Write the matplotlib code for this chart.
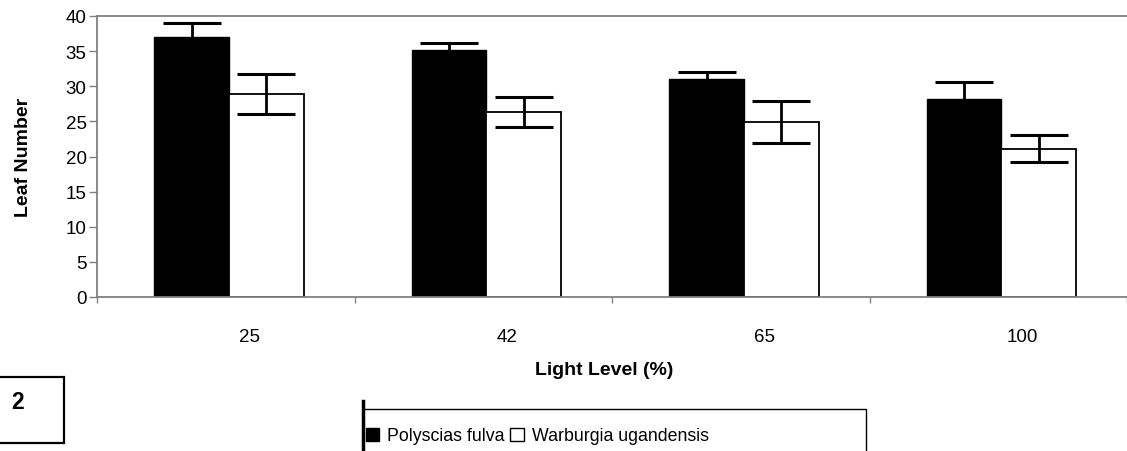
import numpy as np
import matplotlib
matplotlib.use('Agg')
import matplotlib.pyplot as plt
import matplotlib.transforms as mtransforms
from matplotlib.patches import Rectangle
from matplotlib.lines import Line2D

plt.rcParams['font.family'] = ['Liberation Sans', 'DejaVu Sans']

# Data
LIGHT_LEVELS = ['25', '42', '65', '100']
POLYSCIAS_MEAN = [37.0, 35.2, 31.0, 28.2]
POLYSCIAS_ERR = [2.0, 1.0, 1.0, 2.4]
WARBURGIA_MEAN = [28.9, 26.3, 24.9, 21.1]
WARBURGIA_ERR = [2.9, 2.1, 3.0, 1.9]
SERIES_LABELS = ['Polyscias fulva', 'Warburgia ugandensis']

W, H = 1127, 452
fig = plt.figure(figsize=(W / 100, H / 100), dpi=100)
ax = fig.add_axes([97 / W, (H - 298) / H, 1030 / W, 281 / H])

x = np.arange(len(LIGHT_LEVELS))
bw = 0.29
shift = 0.012
err_kw = dict(ecolor='black', elinewidth=2, capsize=21, capthick=2.2)
ax.bar(x - bw + shift, POLYSCIAS_MEAN, bw, align='edge', color='black',
       edgecolor='black', linewidth=1, zorder=2)
ax.bar(x + shift, WARBURGIA_MEAN, bw, align='edge', color='white',
       edgecolor='black', linewidth=1.3, zorder=2)
ax.errorbar(x - bw / 2 + shift, POLYSCIAS_MEAN, yerr=POLYSCIAS_ERR,
            fmt='none', zorder=3, **err_kw)
ax.errorbar(x + bw / 2 + shift, WARBURGIA_MEAN, yerr=WARBURGIA_ERR,
            fmt='none', zorder=3, **err_kw)

ax.set_xlim(-0.5, len(LIGHT_LEVELS) - 0.5)
ax.set_ylim(0, 40)
ax.set_yticks(np.arange(0, 41, 5))
ax.tick_params(axis='y', direction='out', length=6, width=1, color='#808080',
               labelsize=13.5, pad=1.5)

# category boundary ticks (major, unlabeled), labels on minor ticks
ax.set_xticks(np.arange(-0.5, len(LIGHT_LEVELS), 1.0))
ax.set_xticklabels([])
ax.tick_params(axis='x', which='major', direction='out', length=4, width=1,
               color='#808080')
ax.set_xticks(x, minor=True)
ax.set_xticklabels(LIGHT_LEVELS, minor=True)
ax.tick_params(axis='x', which='minor', length=0, labelsize=13.5, pad=22.5)
offset = mtransforms.ScaledTranslation(24 / 100, 0, fig.dpi_scale_trans)
for lab in ax.get_xticklabels(minor=True):
    lab.set_transform(lab.get_transform() + offset)

for side in ['left', 'bottom', 'top']:
    ax.spines[side].set_color('#808080')
    ax.spines[side].set_linewidth(1.3)
ax.spines['right'].set_visible(False)

ax.set_ylabel('Leaf Number', fontsize=14, fontweight='bold')
ax.yaxis.set_label_coords(-0.063, 0.5)
ax.set_xlabel('Light Level (%)', fontsize=14, fontweight='bold')
ax.xaxis.set_label_coords(0.492, -0.228)

# legend with frame cut off by the figure bottom
fig.patches.append(Rectangle((363 / W, -0.2), 503 / W, 0.2 + (H - 410) / H,
                             transform=fig.transFigure, fill=False,
                             edgecolor='black', linewidth=1))
fig.lines.append(Line2D([363 / W, 363 / W], [(H - 402) / H, 0],
                        transform=fig.transFigure, color='black', linewidth=2.5))
handles = [Rectangle((0, 0), 1, 1, facecolor='black', edgecolor='black'),
           Rectangle((0, 0), 1, 1, facecolor='white', edgecolor='black')]
fig.legend(handles, SERIES_LABELS, loc='center left',
           bbox_to_anchor=(366 / W, (H - 437) / H), ncol=2, frameon=False,
           fontsize=12.8, handlelength=0.75, handleheight=0.75,
           handletextpad=0.45, columnspacing=0.3, borderpad=0, borderaxespad=0)

# panel number box
fig.patches.append(Rectangle((-0.01, (H - 444) / H), 0.01 + 64 / W, 66 / H,
                             transform=fig.transFigure, fill=False,
                             edgecolor='black', linewidth=1.6))
fig.text(18 / W, (H - 403) / H, '2', fontsize=16.5, fontweight='bold',
         ha='center', va='center')

fig.savefig('out.png', dpi=100)
